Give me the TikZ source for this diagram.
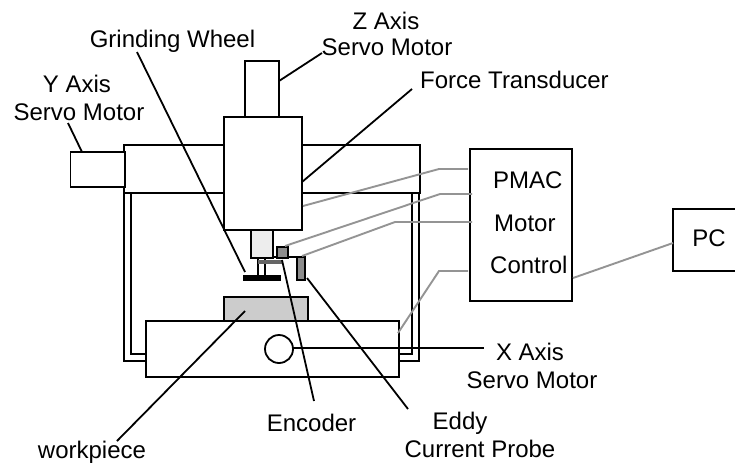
\documentclass[tikz,border=0pt]{standalone}
\usepackage{fontspec}
\setmainfont{Liberation Sans}
\tikzset{
    lbl/.style={inner sep=0pt, anchor=base, font=\fontsize{24}{28}\selectfont},
    body/.style={draw, line width=1.8pt, fill=white},
    lead/.style={line width=1.8pt},
    sig/.style={draw=black!42, line width=1.9pt}
}

\begin{document}
\begin{tikzpicture}[x=1pt,y=-1pt]
    \useasboundingbox (0,0) rectangle (735,467);

    % base frame
    \draw[line width=1.8pt] (146,361) -- (124,361) -- (124,192) -- (419,192) -- (419,361) -- (399,361);
    \draw[line width=1.8pt] (146,354) -- (131,354) -- (131,193);
    \draw[line width=1.8pt] (399,354) -- (412,354) -- (412,193);

    % carriage
    \draw[body] (124,145) rectangle (420,193);
    \draw[body] (70.5,152) rectangle (125,187);
    \draw[body] (245,61) rectangle (279,117);
    \draw[body] (224,117) rectangle (302,230);

    % spindle
    \draw[body, fill=black!7] (251,230) rectangle (273,258);
    \draw[lead] (258,258) -- (258,275);
    \draw[lead] (265,258) -- (265,275);
    \draw[lead] (273,257) -- (297,257);
    \fill (243,275) rectangle (281,281);
    \fill[black!60] (258,260) rectangle (283,263.5);
    \draw[body, fill=black!45] (277,247) rectangle (288,258);
    \draw[body, fill=black!45] (297,257) rectangle (305,280);

    % table
    \draw[body, fill=black!20] (224,297) rectangle (308,321);
    \draw[body] (146,321) rectangle (399,377);
    \draw[body] (279,349) circle (14);

    % controller
    \node[draw, line width=1.3pt, minimum width=102pt, minimum height=152pt] (ctrl) at (521,225) {};
    \node[draw, line width=1.8pt, minimum width=70pt, minimum height=62pt] (pc) at (708,240) {};

    % labels
    \node[lbl] (zaxis) at (386,29) {Z Axis};
    \node[lbl] (zmotor) at (387,55) {Servo Motor};
    \node[lbl] (wheel) at (172.5,47.5) {Grinding Wheel};
    \node[lbl] (yaxis) at (77,92) {Y Axis};
    \node[lbl] (ymotor) at (79,120) {Servo Motor};
    \node[lbl, anchor=base west] (force) at (420,88) {Force Transducer};
    \node[lbl, anchor=base west] (pmac) at (493,188) {PMAC};
    \node[lbl, anchor=base west] (motor) at (494,231) {Motor};
    \node[lbl, anchor=base west] (control) at (490,273) {Control};
    \node[lbl] (pctext) at (709,246) {PC};
    \node[lbl] (xaxis) at (530,360) {X Axis};
    \node[lbl] (xmotor) at (532,388) {Servo Motor};
    \node[lbl] (encoder) at (311.5,431) {Encoder};
    \node[lbl] (eddy) at (460,429) {Eddy};
    \node[lbl] (probe) at (480,457) {Current Probe};
    \node[lbl] (work) at (92,458) {workpiece};

    % leader lines
    \coordinate (w1) at (137,52);
    \coordinate (w2) at (245,272);
    \coordinate (f1) at (412,89);
    \coordinate (f2) at (302,182);
    \coordinate (z1) at (322,53);
    \coordinate (z2) at (279,81);
    \coordinate (y1) at (68,123);
    \coordinate (y2) at (82,152);
    \coordinate (x1) at (293,348);
    \coordinate (x2) at (484,348);
    \coordinate (e1) at (282,260);
    \coordinate (e2) at (314,401);
    \coordinate (p1) at (307,278);
    \coordinate (p2) at (408,409);
    \coordinate (k1) at (245,311);
    \coordinate (k2) at (117,441);
    \draw[lead] (w1) to (w2);
    \draw[lead] (f1) to (f2);
    \draw[lead] (z1) to (z2);
    \draw[lead] (y1) to (y2);
    \draw[lead] (x1) to (x2);
    \draw[lead] (e1) to (e2);
    \draw[lead] (p1) to (p2);
    \draw[lead] (k1) to (k2);

    % signal lines
    \coordinate (s1) at (303,206);
    \coordinate (s2) at (439,169);
    \coordinate (s3) at (468,169);
    \coordinate (t1) at (285,246);
    \coordinate (t2) at (440,194);
    \coordinate (t3) at (472,194);
    \coordinate (u1) at (302,256);
    \coordinate (u2) at (395,222);
    \coordinate (u3) at (472,222);
    \coordinate (v1) at (398,333);
    \coordinate (v2) at (439,271);
    \coordinate (v3) at (468,271);
    \coordinate (m1) at (573,278);
    \coordinate (m2) at (673,243);
    \draw[sig] (s1) -- (s2) -- (s3);
    \draw[sig] (t1) -- (t2) -- (t3);
    \draw[sig] (u1) -- (u2) -- (u3);
    \draw[sig] (v1) -- (v2) -- (v3);
    \draw[sig] (m1) -- (m2);
\end{tikzpicture}
\end{document}
